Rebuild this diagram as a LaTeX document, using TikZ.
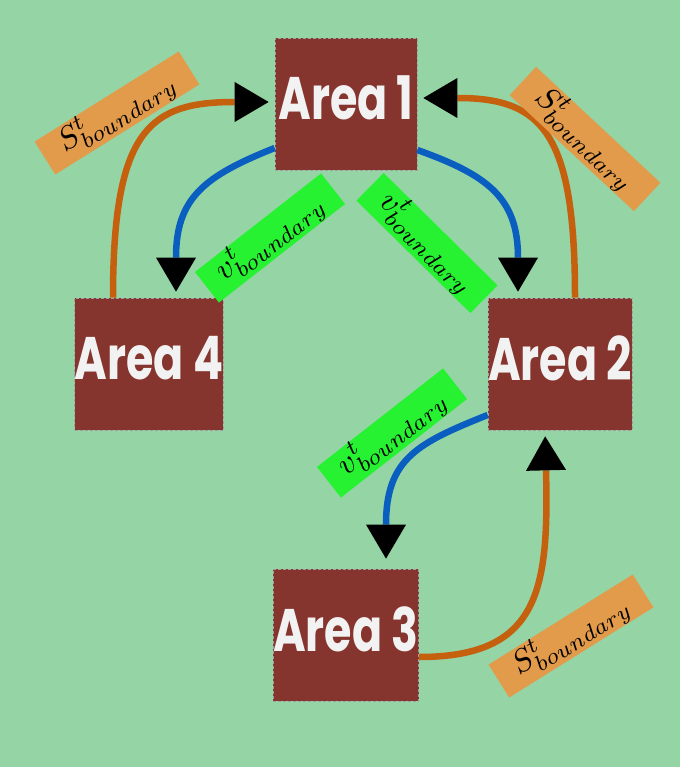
\documentclass[tikz,border=0pt]{standalone}
\usepackage{fontspec}
\newfontfamily\areafont{Poppins}
\usetikzlibrary{arrows.meta}

\definecolor{bggreen}{HTML}{95D4A5}
\definecolor{areabrown}{HTML}{85352E}
\definecolor{areawhite}{HTML}{F2F2F2}
\definecolor{sorange}{HTML}{C5600E}
\definecolor{vblue}{HTML}{0A5EC0}
\definecolor{labelorange}{HTML}{E29A4B}
\definecolor{labelgreen}{HTML}{26F232}

\newcommand{\arealabel}[1]{\scalebox{0.74}[1]{#1}}
\newcommand{\slab}{\scalebox{3.2}{$S^t_{boundary}$}}
\newcommand{\vlab}{\scalebox{3.2}{$v^t_{boundary}$}}

\begin{document}
\begin{tikzpicture}[x=1pt,y=1pt,>={Triangle[length=34pt,width=40pt,line width=0pt,color=black]},
area/.style={draw=gray!75,densely dashed,line width=0.7pt,fill=areabrown,minimum width=142pt,minimum height=132pt,inner sep=0pt,text depth=12pt,text=areawhite,font=\areafont\bfseries\fontsize{60}{60}\selectfont},
sflow/.style={->,line width=6.5pt,draw=sorange,shorten >=6pt},
vflow/.style={->,line width=6.5pt,draw=vblue,shorten >=6pt},
slabel/.style={fill=labelorange,minimum width=170pt,minimum height=29pt,inner sep=0pt},
vlabel/.style={fill=labelgreen,minimum width=160pt,minimum height=25pt,inner sep=0pt}]
\fill[bggreen] (0,0) rectangle (680,-767);
\node[area] (a1) at (346,-104) {\arealabel{Area 1}};
\node[area] (a2) at (560,-364) {\arealabel{Area 2}};
\node[area] (a3) at (346,-635) {\arealabel{Area 3}};
\node[area] (a4) at (149,-364) {\arealabel{Area 4}};
% state exchange
\draw[sflow] ([xshift=-36]a4.north) .. controls +(0,168) and +(-125,0) .. ([yshift=2]a1.west);
\draw[sflow] ([xshift=15]a2.north) .. controls +(0,165) and +(125,0) .. ([yshift=6]a1.east);
\draw[sflow] ([yshift=-22]a3.east) .. controls +(120,0) and +(4,-160) .. ([xshift=-15]a2.south);
% voltage exchange
\draw[vflow] ([yshift=-44]a1.west) .. controls +(-70,-28) and +(0,100) .. ([xshift=27]a4.north);
\draw[vflow] ([yshift=-46]a1.east) .. controls +(70,-25) and +(0,100) .. ([xshift=-42]a2.north);
\draw[vflow,shorten >=10pt] ([yshift=-51]a2.west) .. controls +(-70,-28) and +(0,110) .. ([xshift=40]a3.north);
\node[slabel,rotate=32] (s1) at (117,-113) {\slab};
\node[slabel,rotate=-43] (s2) at (585,-139) {\slab};
\node[slabel,rotate=32] (s3) at (571,-636) {\slab};
\node[vlabel,rotate=38] (v1) at (270,-238) {\vlab};
\node[vlabel,rotate=-44.6] (v2) at (427,-243) {\vlab};
\node[vlabel,rotate=38] (v3) at (392,-433) {\vlab};
\end{tikzpicture}
\end{document}
